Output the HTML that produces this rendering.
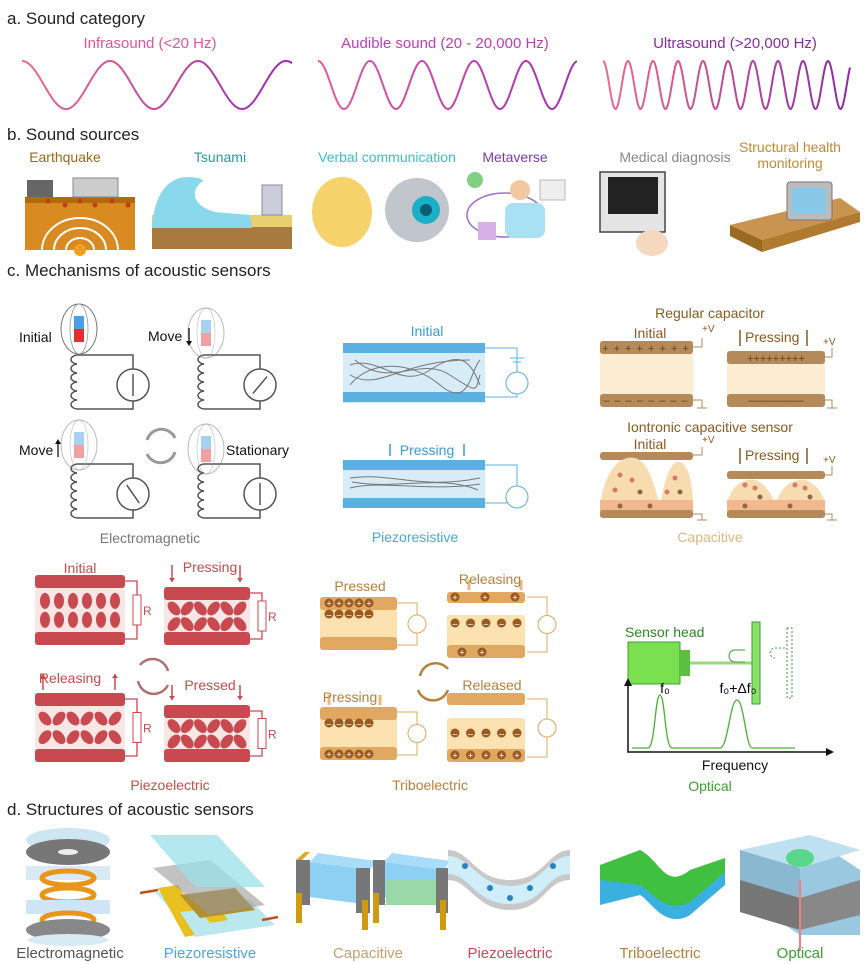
<!DOCTYPE html>
<html><head><meta charset="utf-8"><style>
html,body{margin:0;padding:0;background:#fff}
svg{display:block;font-family:"Liberation Sans",Arial,sans-serif}
</style></head><body>
<svg id="s" width="865" height="965" viewBox="0 0 865 965" xmlns="http://www.w3.org/2000/svg">
<defs>
<linearGradient id="wg" x1="0" x2="1"><stop offset="0" stop-color="#f06a8a"/><stop offset="1" stop-color="#9a2ab0"/></linearGradient>
<linearGradient id="wg2" x1="0" x2="1"><stop offset="0" stop-color="#e85aa0"/><stop offset="1" stop-color="#a030b8"/></linearGradient>
<linearGradient id="wg3" x1="0" x2="1"><stop offset="0" stop-color="#f06a8a"/><stop offset="1" stop-color="#8a2aa8"/></linearGradient>
</defs>
<g font-size="17" fill="#222">
<text x="7" y="24">a. Sound category</text>
<text x="7" y="140">b. Sound sources</text>
<text x="7" y="276">c. Mechanisms of acoustic sensors</text>
<text x="7" y="815">d. Structures of acoustic sensors</text>
</g>
<g font-size="15" text-anchor="middle">
<text x="150" y="48" fill="#e0559a">Infrasound (&lt;20 Hz)</text>
<text x="445" y="48" fill="#c03cb8">Audible sound (20 - 20,000 Hz)</text>
<text x="735" y="48" fill="#8a2ba0">Ultrasound (&gt;20,000 Hz)</text>
</g>
<g id="waves" fill="none" stroke-width="2"></g>

<g font-size="14" text-anchor="middle">
<text x="65" y="162" fill="#9a6a1a">Earthquake</text>
<text x="220" y="162" fill="#2a9a9a">Tsunami</text>
<text x="387" y="162" fill="#3cc0c0">Verbal communication</text>
<text x="515" y="162" fill="#7a3ab0">Metaverse</text>
<text x="675" y="162" fill="#888">Medical diagnosis</text>
<text x="790" y="152" fill="#c08a30">Structural health</text>
<text x="790" y="168" fill="#c08a30">monitoring</text>
</g>
<g>
<rect x="25" y="200" width="110" height="50" fill="#d98a20"/>
<rect x="25" y="197" width="110" height="6" fill="#b06a10"/>
<g fill="none" stroke="#fff" stroke-width="2"><path d="M42,250a38,32 0 0 1 76,0"/><path d="M54,250a26,22 0 0 1 52,0"/><path d="M66,250a14,12 0 0 1 28,0"/></g>
<circle cx="80" cy="250" r="6" fill="#f0a020"/>
<rect x="27" y="180" width="26" height="17" fill="#666"/><rect x="73" y="178" width="45" height="19" fill="#ccc" stroke="#888"/>
<g fill="#c04010"><circle cx="48" cy="201" r="2.5"/><circle cx="65" cy="205" r="2.5"/><circle cx="80" cy="201" r="2.5"/><circle cx="95" cy="205" r="2.5"/><circle cx="112" cy="201" r="2.5"/><circle cx="128" cy="205" r="2.5"/></g>
<rect x="152" y="225" width="140" height="24" fill="#a87a40"/><rect x="152" y="215" width="140" height="12" fill="#e8d070"/>
<path d="M152,228 C155,185 175,170 205,180 C190,188 190,205 215,212 L250,215 L252,228z" fill="#8ad8ec"/>
<path d="M160,190 C175,172 195,172 205,180" stroke="#fff" stroke-width="3" fill="none"/>
<rect x="262" y="185" width="20" height="30" fill="#ccd" stroke="#889"/>
<ellipse cx="342" cy="212" rx="30" ry="35" fill="#f5d36a"/>
<circle cx="417" cy="210" r="32" fill="#c0c6cc"/><circle cx="426" cy="210" r="14" fill="#1ab0c8"/><circle cx="426" cy="210" r="6" fill="#0a6070"/>
<ellipse cx="505" cy="215" rx="38" ry="22" fill="none" stroke="#a070d0" stroke-width="1.5"/>
<circle cx="475" cy="180" r="8" fill="#80d080"/><circle cx="520" cy="190" r="10" fill="#f2c8a0"/><rect x="505" y="203" width="40" height="35" rx="8" fill="#a8e0f4"/><rect x="478" y="222" width="18" height="18" fill="#d8b0e8"/><rect x="540" y="180" width="25" height="20" fill="#eee" stroke="#bbb"/>
<rect x="600" y="172" width="65" height="60" fill="#e4e4e4" stroke="#444" stroke-width="1.5"/><rect x="608" y="177" width="50" height="37" fill="#222"/><ellipse cx="652" cy="243" rx="16" ry="13" fill="#f5d8c0"/>
<path d="M730,225 L840,198 L860,212 L762,240z" fill="#c89450"/><path d="M730,225 L762,240 L762,252 L730,236z" fill="#9a6a20"/><path d="M762,240 L860,212 L860,222 L762,252z" fill="#b07a30"/>
<rect x="787" y="182" width="45" height="38" rx="3" fill="#bbb" stroke="#777"/><rect x="792" y="188" width="34" height="26" fill="#8ac8e8"/>
</g>

<g id="em" stroke="#555" stroke-width="1.5" fill="none"></g>
<g font-size="14" fill="#111">
<text x="19" y="342">Initial</text><text x="148" y="341">Move</text><text x="19" y="455">Move</text><text x="226" y="455">Stationary</text>
</g>
<path d="M189,328 v15 M58,457 v-15" stroke="#111" stroke-width="1.3"/>
<path d="M186,341 L189,346 L192,341z M55,444 L58,439 L61,444z" fill="#111"/>
<text x="150" y="543" font-size="14" fill="#777" text-anchor="middle">Electromagnetic</text>
<g fill="none" stroke="#999" stroke-width="3"><path d="M147,440 a15,15 0 0 1 28,-2"/><path d="M175,452 a15,15 0 0 1 -28,2"/></g>

<g>
<text x="427" y="336" font-size="14" fill="#3a9ad8" text-anchor="middle">Initial</text>
<rect x="343" y="343" width="142" height="60" fill="#d8ecf8"/>
<rect x="343" y="343" width="142" height="10" fill="#5ab0e0"/><rect x="343" y="392" width="142" height="10" fill="#5ab0e0"/>
<g fill="none" stroke="#777" stroke-width="1"><path d="M350,365 C380,355 400,390 430,370 S470,360 480,385"/><path d="M350,385 C370,360 410,360 440,385 S470,370 480,360"/><path d="M355,360 C390,390 420,355 450,375 S475,390 480,375"/><path d="M350,375 C380,392 400,360 470,360"/></g>
<path d="M485,348 H517 V372 M485,397 H517 V394" stroke="#5ab0e0" fill="none"/><circle cx="517" cy="383" r="11" fill="#fff" stroke="#5ab0e0"/><path d="M510,358 h14 M513,362 h8" stroke="#5ab0e0"/>
<text x="427" y="455" font-size="14" fill="#3a9ad8" text-anchor="middle">Pressing</text>
<path d="M390,444 v12 M464,444 v12" stroke="#3a9ad8" stroke-width="1.5"/>
<rect x="343" y="460" width="142" height="48" fill="#d8ecf8"/>
<rect x="343" y="460" width="142" height="10" fill="#5ab0e0"/><rect x="343" y="498" width="142" height="10" fill="#5ab0e0"/>
<g fill="none" stroke="#777"><path d="M350,478 C390,472 420,490 480,478"/><path d="M350,488 C380,480 430,492 480,484"/><path d="M352,482 C400,490 440,474 478,490"/></g>
<path d="M485,465 H517 V486 M485,503 H517 V508" stroke="#5ab0e0" fill="none"/><circle cx="517" cy="497" r="11" fill="#fff" stroke="#5ab0e0"/>
<text x="415" y="542" font-size="14" fill="#4aa8d8" text-anchor="middle">Piezoresistive</text>
</g>

<g font-size="14" fill="#8a5a20">
<text x="710" y="318" text-anchor="middle">Regular capacitor</text>
<text x="650" y="338" text-anchor="middle">Initial</text>
<rect x="600" y="341" width="93" height="65" fill="#fbecd2"/>
<rect x="600" y="341" width="93" height="13" rx="3" fill="#b48a5a"/><rect x="600" y="394" width="93" height="13" rx="3" fill="#b48a5a"/>
<text x="646" y="352" font-size="11" fill="#6a4010" text-anchor="middle" letter-spacing="1">+ + + + + + + +</text>
<text x="646" y="404" font-size="11" fill="#6a4010" text-anchor="middle" letter-spacing="1">– – – – – – – –</text>
<text x="702" y="332" font-size="10">+V</text>
<rect x="727" y="351" width="98" height="55" fill="#fbecd2"/>
<rect x="727" y="351" width="98" height="13" rx="3" fill="#b48a5a"/><rect x="727" y="394" width="98" height="13" rx="3" fill="#b48a5a"/>
<text x="776" y="362" font-size="11" fill="#6a4010" text-anchor="middle">+++++++++</text>
<text x="776" y="404" font-size="11" fill="#6a4010" text-anchor="middle">–––––––––</text>
<text x="745" y="342">Pressing</text><path d="M740,330 v16 M807,330 v16" stroke="#8a5a20" stroke-width="1.5"/>
<text x="823" y="345" font-size="10">+V</text>
<text x="710" y="432" text-anchor="middle">Iontronic capacitive sensor</text>
<text x="650" y="449" text-anchor="middle">Initial</text><text x="702" y="443" font-size="10">+V</text>
<rect x="600" y="452" width="93" height="8" rx="3" fill="#b48a5a"/>
<path d="M600,505 C605,470 620,455 635,458 C650,462 655,490 660,505 C665,480 670,460 680,462 C690,465 693,490 693,505z" fill="#f7dcb0"/>
<rect x="600" y="500" width="93" height="17" fill="#f2b890"/><rect x="600" y="510" width="93" height="8" rx="3" fill="#b48a5a"/>
<text x="745" y="460">Pressing</text><text x="823" y="463" font-size="10">+V</text>
<path d="M740,448 v16 M807,448 v16" stroke="#8a5a20" stroke-width="1.5"/>
<rect x="727" y="471" width="98" height="8" rx="3" fill="#b48a5a"/>
<path d="M727,505 C730,485 745,478 755,480 C770,485 775,505 776,505 C780,485 795,478 805,480 C820,485 825,500 825,505z" fill="#f7dcb0"/>
<rect x="727" y="500" width="98" height="17" fill="#f2b890"/><rect x="727" y="510" width="98" height="8" rx="3" fill="#b48a5a"/>
<g fill="#d87a6a"><circle cx="620" cy="475" r="2.5"/><circle cx="632" cy="480" r="2.5"/><circle cx="615" cy="490" r="2.5"/><circle cx="675" cy="478" r="2.5"/><circle cx="667" cy="492" r="2.5"/><circle cx="745" cy="485" r="2.5"/><circle cx="755" cy="488" r="2.5"/><circle cx="795" cy="485" r="2.5"/><circle cx="805" cy="488" r="2.5"/></g>
<g fill="#8a6a4a"><circle cx="640" cy="492" r="2.5"/><circle cx="680" cy="492" r="2.5"/><circle cx="620" cy="506" r="2.5"/><circle cx="650" cy="506" r="2.5"/><circle cx="760" cy="497" r="2.5"/><circle cx="810" cy="497" r="2.5"/><circle cx="745" cy="506" r="2.5"/><circle cx="790" cy="506" r="2.5"/></g>
<path d="M693,347 H702 V338 M693,400 H702 V408 M697,408 h10 M825,357 H832 V348 M825,400 H832 V408 M827,408 h10 M693,455 H702 V447 M693,514 H702 V520 M697,520 h10 M825,475 H832 V466 M825,514 H832 V520 M827,520 h10" stroke="#b48a5a" fill="none"/>
<text x="710" y="542" fill="#d8b880" text-anchor="middle">Capacitive</text>
</g>

<g id="pe"></g>
<g font-size="14" fill="#c84a4a">
<text x="80" y="573" text-anchor="middle">Initial</text>
<text x="210" y="572" text-anchor="middle">Pressing</text>
<text x="70" y="683" text-anchor="middle">Releasing</text>
<text x="210" y="690" text-anchor="middle">Pressed</text>
<text x="170" y="790" text-anchor="middle">Piezoelectric</text>
</g>
<g fill="none" stroke="#b07070" stroke-width="2.5"><path d="M140,665 a16,16 0 0 1 28,6"/><path d="M168,685 a16,16 0 0 1 -30,-4"/></g>

<g id="tr"></g>
<g font-size="14" fill="#b8803a">
<text x="360" y="591" text-anchor="middle">Pressed</text>
<text x="490" y="584" text-anchor="middle">Releasing</text>
<text x="350" y="702" text-anchor="middle">Pressing</text>
<text x="492" y="690" text-anchor="middle">Released</text>
<text x="430" y="790" text-anchor="middle">Triboelectric</text>
</g>
<g fill="none" stroke="#b8803a" stroke-width="2.5"><path d="M420,676 a16,16 0 0 1 28,-7"/><path d="M448,690 a16,16 0 0 1 -30,0"/></g>

<g>
<text x="625" y="637" font-size="14" fill="#2a8a20">Sensor head</text>
<rect x="628" y="642" width="52" height="42" fill="#7ae050" stroke="#3aa030"/>
<rect x="680" y="650" width="10" height="26" fill="#5ac040"/>
<line x1="690" y1="663" x2="755" y2="663" stroke="#9ad880" stroke-width="3"/>
<rect x="752" y="622" width="8" height="82" fill="#8ae068" stroke="#3aa030"/>
<rect x="787" y="628" width="5" height="70" fill="none" stroke="#3aa030" stroke-dasharray="2,2"/>
<path d="M745,650 H735 a6,6 0 0 0 0,12 H745" fill="none" stroke="#3aa030"/>
<path d="M785,648 H775 a5,5 0 0 0 0,10" fill="none" stroke="#3aa030" stroke-dasharray="2,2"/>
<path d="M628,680 V752 H832" fill="none" stroke="#111" stroke-width="1.5"/>
<path d="M624,686 L628,678 L632,686" fill="#111"/><path d="M826,748 L834,752 L826,756z" fill="#111"/>
<path d="M632,748 H648 C655,748 655,695 660,695 C665,695 665,748 672,748 H720 C728,748 730,700 737,700 C744,700 746,748 752,748 H795" fill="none" stroke="#4ab030" stroke-width="1.3"/>
<text x="665" y="693" font-size="14" text-anchor="middle">f₀</text>
<text x="738" y="693" font-size="14" text-anchor="middle">f₀+Δf₀</text>
<text x="735" y="770" font-size="14" text-anchor="middle" fill="#111">Frequency</text>
<text x="710" y="791" font-size="14" fill="#3aa030" text-anchor="middle">Optical</text>
</g>

<g>
<ellipse cx="68" cy="840" rx="42" ry="12" fill="#cde6f2"/>
<ellipse cx="68" cy="852" rx="42" ry="13" fill="#777"/><ellipse cx="68" cy="852" rx="10" ry="3" fill="#eee"/>
<path d="M26,866 L110,866 L110,880 L26,880z" fill="#cfe4f4" opacity=".8"/>
<ellipse cx="68" cy="878" rx="26" ry="7" fill="none" stroke="#e8961a" stroke-width="5"/>
<ellipse cx="68" cy="895" rx="26" ry="7" fill="none" stroke="#e8961a" stroke-width="5"/>
<rect x="26" y="900" width="84" height="14" fill="#cfe4f4"/>
<ellipse cx="68" cy="920" rx="26" ry="7" fill="none" stroke="#e8961a" stroke-width="5"/>
<ellipse cx="68" cy="930" rx="42" ry="11" fill="#888"/><ellipse cx="68" cy="940" rx="40" ry="6" fill="#d8eaf4"/>
<path d="M155,892 L250,900 L275,925 L195,937z" fill="#a8e4ea" opacity=".8"/>
<path d="M158,888 L178,885 L190,905 L215,902 L228,920 L210,923 L200,910 L180,912 L195,935 L185,937z" fill="#e8c020"/>
<path d="M180,895 L235,888 L255,910 L200,918z" fill="#b09030"/>
<path d="M153,868 L210,860 L265,905 L210,915z" fill="#999" opacity=".6"/>
<path d="M150,835 L217,835 L265,887 L195,887z" fill="#98e0e8" opacity=".75"/>
<path d="M140,893 L158,890 M262,920 L278,917" stroke="#c05020" stroke-width="2.5"/>
<path d="M310,862 L370,870 L370,905 L310,897z" fill="#8ecff4"/>
<path d="M310,862 L318,853 L376,861 L370,870z" fill="#a8dcf8"/>
<rect x="296" y="860" width="14" height="45" fill="#777"/><rect x="356" y="868" width="14" height="45" fill="#777"/>
<path d="M296,860 L305,852 L310,852 L302,860z" fill="#e0a820"/>
<rect x="296" y="893" width="6" height="30" fill="#d09a10"/><rect x="362" y="900" width="6" height="30" fill="#d09a10"/>
<path d="M384,862 L444,870 L444,905 L384,897z" fill="#8ecff4"/>
<path d="M384,862 L392,853 L450,861 L444,870z" fill="#a8dcf8"/>
<rect x="386" y="880" width="54" height="25" fill="#9ad8a8"/>
<rect x="373" y="860" width="12" height="45" fill="#777"/><rect x="436" y="868" width="12" height="45" fill="#777"/>
<rect x="373" y="893" width="6" height="30" fill="#d09a10"/><rect x="440" y="900" width="6" height="30" fill="#d09a10"/>
<path d="M448,850 C470,850 475,880 510,880 C545,880 548,850 570,850 L570,880 C545,880 545,910 510,910 C475,910 470,880 448,880z" fill="#c8c8c8"/>
<path d="M448,856 C470,856 478,886 510,886 C542,886 548,856 570,856 L570,874 C545,874 545,904 510,904 C475,904 470,874 448,874z" fill="#cfeefa"/>
<g fill="#2a80c0"><circle cx="465" cy="866" r="3"/><circle cx="490" cy="888" r="3"/><circle cx="510" cy="898" r="3"/><circle cx="530" cy="888" r="3"/><circle cx="553" cy="866" r="3"/></g>
<path d="M600,875 L640,860 C660,870 665,900 690,880 L725,870 L725,885 L690,915 C665,930 650,900 640,895 L600,905z" fill="#3ab0e0"/>
<path d="M600,865 L640,850 C660,860 665,890 690,870 L725,858 L725,872 L690,902 C665,915 650,890 640,885 L600,880z" fill="#40c040"/>
<path d="M770,850 L830,850 L860,870 L860,935 L800,935 L770,915z" fill="#9ac8e0"/>
<path d="M740,850 L810,835 L860,850 L800,868z" fill="#bfe0f0"/>
<path d="M740,850 L800,868 L800,930 L740,912z" fill="#8ab8d0"/>
<path d="M740,880 L800,898 L800,930 L740,912z" fill="#777"/><path d="M800,898 L860,880 L860,915 L800,930z" fill="#888"/>
<ellipse cx="800" cy="858" rx="14" ry="9" fill="#5ad88a"/>
<line x1="800" y1="880" x2="800" y2="950" stroke="#f08080" stroke-width="2"/>
</g>
<g font-size="15" text-anchor="middle">
<text x="70" y="958" fill="#555">Electromagnetic</text>
<text x="210" y="958" fill="#4aa8e0">Piezoresistive</text>
<text x="368" y="958" fill="#c8a070">Capacitive</text>
<text x="510" y="958" fill="#c84a5a">Piezoelectric</text>
<text x="660" y="958" fill="#b8803a">Triboelectric</text>
<text x="800" y="958" fill="#3aa030">Optical</text>
</g>
</svg>
<script>
var NS="http://www.w3.org/2000/svg";
function el(p,t,a){var e=document.createElementNS(NS,t);for(var k in a)e.setAttribute(k,a[k]);p.appendChild(e);return e;}
function wave(x0,x1,per,g){var d="";for(var x=x0;x<=x1;x+=0.5){var y=85-24*Math.cos((x-x0)/per*2*Math.PI);d+=(x==x0?"M":"L")+x.toFixed(1)+","+y.toFixed(1);}el(document.getElementById("waves"),"path",{d:d,stroke:g});}
wave(22,292,88,"url(#wg)");wave(318,577,52,"url(#wg2)");wave(603,850,25,"url(#wg3)");
var em=document.getElementById("em");
function emc(x0,y0,my,rot,fade){var w=56,h=54,x1=x0+w,y1=y0+h;
 el(em,"path",{d:"M"+x0+","+y0+" H"+x1+" V"+y1+" H"+x0});
 var c="M"+x0+","+y0,n=6;for(var i=0;i<n;i++){var yy=y0+i*(h/n);c+=" C"+(x0-8)+","+(yy+1)+" "+(x0-8)+","+(yy+h/n-1)+" "+x0+","+(yy+h/n);}
 el(em,"path",{d:c});
 var mcy=y0+h/2+3;el(em,"circle",{cx:x1,cy:mcy,r:16,fill:"#fff"});
 var a=rot*Math.PI/180;el(em,"path",{d:"M"+(x1-11*Math.sin(a))+","+(mcy+11*Math.cos(a))+" L"+(x1+11*Math.sin(a))+","+(mcy-11*Math.cos(a))});
 var op=fade?0.5:1,cx=x0+2;
 el(em,"ellipse",{cx:cx,cy:my+13,rx:18,ry:25,stroke:"#777","stroke-width":1,opacity:op});
 el(em,"ellipse",{cx:cx,cy:my+13,rx:9,ry:25,stroke:"#999","stroke-width":0.8,opacity:op});
 el(em,"rect",{x:cx-5,y:my,width:10,height:13,fill:fade?"#a8d0f0":"#4aa0e0",stroke:"none"});
 el(em,"rect",{x:cx-5,y:my+13,width:10,height:13,fill:fade?"#f0a0a0":"#e03030",stroke:"none"});}
emc(77,355,316,0,false);emc(204,355,320,40,true);emc(77,464,432,-35,true);emc(204,464,436,0,true);
var pe=document.getElementById("pe");
function pblk(x,y,w,h,tilt){el(pe,"rect",{x:x,y:y,width:w,height:h,fill:"#fbe6e6"});
 el(pe,"rect",{x:x,y:y,width:w,height:13,rx:3,fill:"#c84a50"});el(pe,"rect",{x:x,y:y+h-13,width:w,height:13,rx:3,fill:"#c84a50"});
 for(var r=0;r<2;r++)for(var i=0;i<6;i++){var cx=x+10+i*(w-20)/5,cy=y+h*0.37+r*h*0.27;var t=tilt?(i%2?-50:50)*(r?-1:1):0;
 el(pe,"ellipse",{cx:cx,cy:cy,rx:tilt?8:5,ry:tilt?5:8,fill:"#c84a50",transform:"rotate("+t+" "+cx+" "+cy+")"});}
 var rx=x+w+12;el(pe,"path",{d:"M"+(x+w)+","+(y+6)+" H"+rx+" V"+(y+h-6)+" H"+(x+w),fill:"none",stroke:"#c84a50","stroke-width":1.3});
 el(pe,"rect",{x:rx-4,y:y+h/2-15,width:8,height:30,fill:"#fff",stroke:"#c84a50"});
 var t=el(pe,"text",{x:rx+6,y:y+h/2+5,"font-size":12,fill:"#c84a50"});t.textContent="R";}
pblk(35,575,90,70,false);pblk(164,587,86,58,true);pblk(35,693,90,69,true);pblk(164,705,86,57,true);
function arr(x,y1,y2,c){el(pe,"path",{d:"M"+x+","+y1+" V"+y2,stroke:c,"stroke-width":1.5});var s=y2>y1?-1:1;el(pe,"path",{d:"M"+(x-3)+","+(y2+4*s)+" L"+x+","+y2+" L"+(x+3)+","+(y2+4*s),fill:c});}
arr(172,565,582,"#c84a50");arr(240,565,582,"#c84a50");arr(43,690,674,"#c84a50");arr(115,690,674,"#c84a50");arr(172,685,700,"#c84a50");arr(240,685,700,"#c84a50");
var tr=document.getElementById("tr");
function bar(x,y,w,h){el(tr,"rect",{x:x,y:y,width:w,height:h,rx:3,fill:"#e0a860"});}
function body(x,y,w,h){el(tr,"rect",{x:x,y:y,width:w,height:h,rx:3,fill:"#fbe2b0"});}
function dots(x,y,n,w,s){for(var i=0;i<n;i++){var cx=x+(n>1?i*w/(n-1):0);el(tr,"circle",{cx:cx,cy:y,r:4.5,fill:"#9a5a20"});var t=el(tr,"text",{x:cx,y:y+3.5,"font-size":9,fill:"#fff","text-anchor":"middle"});t.textContent=s;}}
function meter(x,t0,b0){el(tr,"path",{d:"M"+(x-20)+","+t0+" H"+x+" V"+b0+" H"+(x-20),fill:"none",stroke:"#e0a860"});el(tr,"circle",{cx:x,cy:(t0+b0)/2,r:9,fill:"#fff",stroke:"#e0a860"});}
body(320,597,77,53);bar(320,597,77,13);bar(320,637,77,13);dots(329,603,5,40,"+");dots(329,614,5,40,"–");meter(417,603,645);
bar(447,592,78,11);body(447,615,78,43);bar(447,645,78,13);dots(455,597,3,60,"+");dots(455,623,5,62,"–");dots(462,652,2,20,"+");meter(547,597,652);
body(320,707,77,53);bar(320,707,77,13);bar(320,747,77,13);dots(329,723,5,40,"–");dots(329,754,5,40,"+");meter(417,712,755);
bar(447,693,78,12);body(447,718,78,44);bar(447,749,78,13);dots(455,733,5,62,"–");dots(455,755,5,62,"+");meter(547,699,757);
el(tr,"path",{d:"M469,590 V580 M521,590 V580 M329,695 V705 M380,695 V705",stroke:"#e8b880","stroke-width":3});
</script>
</body></html>
